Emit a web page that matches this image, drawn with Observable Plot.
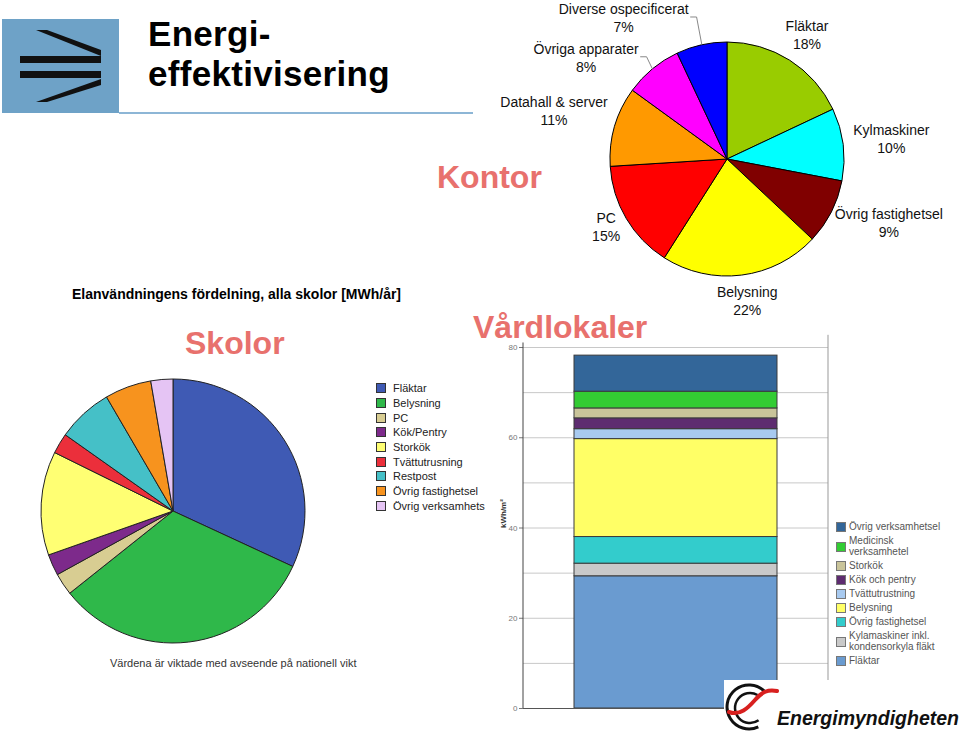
<!DOCTYPE html>
<html><head><meta charset="utf-8">
<script src="https://cdn.jsdelivr.net/npm/d3@7"></script>
<script src="https://cdn.jsdelivr.net/npm/@observablehq/plot@0.6"></script>
<style>
body{margin:0;background:#fff;}
#slide{position:relative;width:960px;height:731px;overflow:hidden;font-family:"Liberation Sans",Arial,sans-serif;background:#fff;}
.abs{position:absolute;}
.ttl{position:absolute;color:#e8716d;font-weight:bold;font-size:32px;line-height:1;white-space:nowrap;}
.leg{position:absolute;display:flex;flex-direction:column;}
.leg .it{display:flex;align-items:center;}
.leg .bx{flex:none;box-sizing:border-box;}
svg.plt{position:absolute;}
</style></head><body><div id="slide"></div><script>
// ---------- DATA ----------
// Kontor (office) pie, share in %
const kontorCats = ["Fläktar", "Kylmaskiner", "Övrig fastighetsel", "Belysning", "PC", "Datahall & server", "Övriga apparater", "Diverse ospecificerat"];
const kontorValues = [18, 10, 9, 22, 15, 11, 8, 7];
// Skolor pie (shares, %)
const skolorCats = ["Fläktar", "Belysning", "PC", "Kök/Pentry", "Storkök", "Tvättutrusning", "Restpost", "Övrig fastighetsel", "Övrig verksamhets"];
const skolorValues = [31.9, 32.4, 2.7, 2.6, 12.7, 2.5, 6.8, 5.7, 2.7];
// Vårdlokaler stacked bar, kWh/m² (bottom to top)
const vardCats = ["Fläktar", "Kylamaskiner inkl.\nkondensorkyla fläkt", "Övrig fastighetsel", "Belysning", "Tvättutrustning", "Kök och pentry", "Storkök", "Medicinsk\nverksamhetel", "Övrig verksamhetsel"];
const vardValues = [29.3, 2.8, 5.9, 21.7, 2.2, 2.4, 2.2, 3.7, 8.0];
const vardTicks = [0, 20, 40, 60, 80];
const vardGrid = [10, 20, 30, 40, 50, 60, 70, 80];

// ---------- STYLES ----------
const kontorColors = ["#99cc00", "#00ffff", "#800000", "#ffff00", "#ff0000", "#ff9900", "#ff00ff", "#0000ff"];
const skolorColors = ["#3f5ab4", "#2fb84a", "#d8cd92", "#7d2a8b", "#ffff73", "#eb2f3b", "#45c0c7", "#f7931e", "#e5c4f4"];
const vardColors = ["#6a9bd0", "#c9c9c9", "#33cccc", "#ffff66", "#a8caf0", "#5e2c70", "#c9c49a", "#33cc33", "#336699"];

const slide = document.getElementById("slide");
const FONT = "Liberation Sans, Arial, sans-serif";

function place(el, left, top) {
  el.style.position = "absolute"; el.style.left = left + "px"; el.style.top = top + "px";
  slide.appendChild(el); return el;
}
function div(html, cls, left, top, css) {
  const d = document.createElement("div"); d.className = cls || ""; d.innerHTML = html;
  if (css) d.style.cssText = css;
  return place(d, left, top);
}

// pie drawn as a Plot render-function mark using the plot's x/y scales
function pieMark(values, colors, stroke) {
  return (index, scales) => {
    const cx = scales.x(0), cy = scales.y(0), r = scales.x(1) - scales.x(0);
    const arcs = d3.pie().sort(null).value(d => d)(values);
    const arc = d3.arc().innerRadius(0).outerRadius(r);
    const g = d3.create("svg:g").attr("transform", `translate(${cx},${cy})`);
    g.selectAll("path").data(arcs).join("path")
      .attr("d", arc).attr("fill", (d, i) => colors[i])
      .attr("stroke", stroke).attr("stroke-width", 1).attr("stroke-linejoin", "round");
    return g.node();
  };
}

// ---------- HEADER ----------
const hdr = document.createElementNS("http://www.w3.org/2000/svg", "svg");
hdr.setAttribute("width", 480); hdr.setAttribute("height", 120);
hdr.innerHTML = `
  <rect x="2" y="19" width="117" height="94" fill="#6ea2c7"/>
  <polygon points="36,30 47,30 101,50 101,56" fill="#111"/>
  <rect x="20" y="56" width="81" height="7" fill="#111"/>
  <rect x="20" y="71" width="81" height="7" fill="#111"/>
  <polygon points="101,79 101,85 47,102 36,102" fill="#111"/>
  <rect x="119" y="112" width="354" height="2" fill="#8db6d6"/>`;
place(hdr, 0, 0);
div("Energi-<br>effektivisering", "", 148, 14,
  "font-weight:bold;font-size:35px;line-height:40px;color:#000;white-space:nowrap;letter-spacing:0.3px;");

// ---------- KONTOR ----------
const KW = 480, KH = 325, kcx = 247, kcy = 159, kr = 117, gap = 10;
const kontorNudge = [[0,0],[0,0],[0,0],[0,0],[0,-4],[0,-6],[-27,12],[-62,2]];
const cv = document.createElement("canvas").getContext("2d");
cv.font = "14px " + FONT;
const ktotal = d3.sum(kontorValues);
let kcum = 0;
const kontorLabels = [], kontorLeaders = [];
kontorCats.forEach((c, i) => {
  const a = (kcum + kontorValues[i] / 2) / ktotal * 2 * Math.PI; kcum += kontorValues[i];
  const pct = kontorValues[i] + "%";
  const w = Math.max(cv.measureText(c).width, cv.measureText(pct).width), h = 36;
  const sx = Math.sin(a), sy = -Math.cos(a);
  const px = sx * (kr + gap) + sx * w / 2 + kontorNudge[i][0];
  const py = sy * (kr + gap) + sy * h / 2 + kontorNudge[i][1];
  kontorLabels.push({text: c + "\n" + pct, x: px / kr, y: py / kr});
  if (kontorNudge[i][0]) {
    kontorLeaders.push({id: i, x: (px + w / 2 + 2) / kr, y: (py - 3) / kr});
    kontorLeaders.push({id: i, x: (px + w / 2 + 8) / kr, y: (py - 3) / kr});
    kontorLeaders.push({id: i, x: sx * 1.01, y: sy * 1.01});
  }
});
const kontorPlot = Plot.plot({
  width: KW, height: KH, margin: 0,
  x: {domain: [-kcx / kr, (KW - kcx) / kr], range: [0, KW], axis: null},
  y: {domain: [-kcy / kr, (KH - kcy) / kr], range: [0, KH], axis: null},
  style: {background: "transparent", overflow: "visible", fontFamily: FONT},
  marks: [
    pieMark(kontorValues, kontorColors, "#000"),
    Plot.line(kontorLeaders, {x: "x", y: "y", z: "id", stroke: "#888", strokeWidth: 1}),
    Plot.text(kontorLabels, {x: "x", y: "y", text: "text", fontSize: 14, lineHeight: 18 / 14, fill: "#111", dy: -3})
  ]
});
kontorPlot.classList.add("plt");
place(kontorPlot, 480, 0);
div("Kontor", "ttl", 437, 161);

// ---------- SKOLOR ----------
const SW = 340, SH = 290, scx = 173, scy = 141, sr = 132;
const skolorPlot = Plot.plot({
  width: SW, height: SH, margin: 0,
  x: {domain: [-scx / sr, (SW - scx) / sr], range: [0, SW], axis: null},
  y: {domain: [-scy / sr, (SH - scy) / sr], range: [0, SH], axis: null},
  style: {background: "transparent", overflow: "visible"},
  marks: [
    Plot.dot([{x: 0, y: 0}], {x: "x", y: "y", r: 0}),
    pieMark(skolorValues, skolorColors, "#222")
  ]
});
skolorPlot.classList.add("plt");
place(skolorPlot, 0, 370);
div("Elanvändningens fördelning, alla skolor [MWh/år]", "", 72, 287,
  "font-weight:bold;font-size:14px;line-height:1;color:#000;white-space:nowrap;");
div("Skolor", "ttl", 185, 327);
div("Värdena är viktade med avseende på nationell vikt", "", 110, 658,
  "font-size:11px;line-height:1;color:#333;white-space:nowrap;");
const sleg = div("", "leg", 376, 381, "");
skolorCats.forEach((c, i) => {
  const it = document.createElement("div"); it.className = "it"; it.style.height = "14.7px";
  it.innerHTML = `<div class="bx" style="width:10px;height:10px;border:1px solid #333;background:${skolorColors[i]};margin-right:7px"></div>` +
    `<span style="font-size:11px;color:#222;white-space:nowrap">${c}</span>`;
  sleg.appendChild(it);
});

// ---------- VÅRDLOKALER ----------
const vardData = vardCats.map((c, i) => ({cat: c, value: vardValues[i], group: "Vårdlokaler"}));
const frameLines = (index, scales, values, dims) => {
  const g = d3.create("svg:g");
  const x0 = dims.marginLeft, x1 = dims.width - dims.marginRight;
  g.append("line").attr("x1", x0).attr("x2", x0).attr("y1", scales.y(81)).attr("y2", scales.y(0)).attr("stroke", "#444");
  g.append("line").attr("x1", x1).attr("x2", x1).attr("y1", scales.y(82.7)).attr("y2", scales.y(0)).attr("stroke", "#999");
  return g.node();
};
const vardPlot = Plot.plot({
  width: 340, height: 400, marginLeft: 33, marginRight: 2, marginTop: 17, marginBottom: 22,
  x: {domain: ["Vårdlokaler"], padding: 0.2, axis: null},
  y: {domain: [0, 80], ticks: vardTicks, tickSize: 4, tickPadding: 2, label: null},
  color: {domain: vardCats, range: vardColors},
  style: {background: "transparent", fontSize: "8px", color: "#777", overflow: "visible", fontFamily: FONT},
  marks: [
    Plot.ruleY(vardGrid, {stroke: "#c8c8c8"}),
    Plot.barY(vardData, {x: "group", y: "value", fill: "cat", stroke: "#3a3a3a", strokeWidth: 1}),
    Plot.ruleY([0], {stroke: "#555"}),
    frameLines,
    Plot.text(["kWh/m²"], {text: d => d, frameAnchor: "left", rotate: -90, dx: -20, fontWeight: "bold", fontSize: 8, fill: "#333"})
  ]
});
vardPlot.classList.add("plt");
place(vardPlot, 490, 330);
div("Vårdlokaler", "ttl", 473, 311);
const vleg = div("", "leg", 836, 520, "");
vardCats.slice().reverse().forEach((c, j) => {
  const i = vardCats.length - 1 - j;
  const two = c.includes("\n");
  const it = document.createElement("div"); it.className = "it"; it.style.height = (two ? 25 : 14) + "px";
  it.innerHTML = `<div class="bx" style="width:10px;height:10px;border:1px solid #777;background:${vardColors[i]};margin-right:3px"></div>` +
    `<span style="font-size:10px;line-height:10.5px;color:#555;white-space:pre">${c}</span>`;
  vleg.appendChild(it);
});

// ---------- LOGO ----------
const logo = document.createElementNS("http://www.w3.org/2000/svg", "svg");
logo.setAttribute("width", 236); logo.setAttribute("height", 51);
logo.innerHTML = `
  <rect x="0" y="0" width="236" height="51" fill="#fff"/>
  <g transform="translate(-724,-680)">
    <path d="M764.6,691.4 A22,22 0 1,0 758.3,726.9" fill="none" stroke="#111" stroke-width="3"/>
    <path d="M757.5,695 A15,15 0 1,0 758.6,720.3" fill="none" stroke="#111" stroke-width="2.5"/>
    <path d="M729,712 C740,716 748,708 755,700 C762,692 768,689 777,691" fill="none" stroke="#d8201f" stroke-width="4" stroke-linecap="round"/>
    <text x="777" y="725" font-family="${FONT}" font-weight="bold" font-style="italic" font-size="19.5" fill="#111">Energimyndigheten</text>
  </g>`;
place(logo, 724, 680);
</script></body></html>
